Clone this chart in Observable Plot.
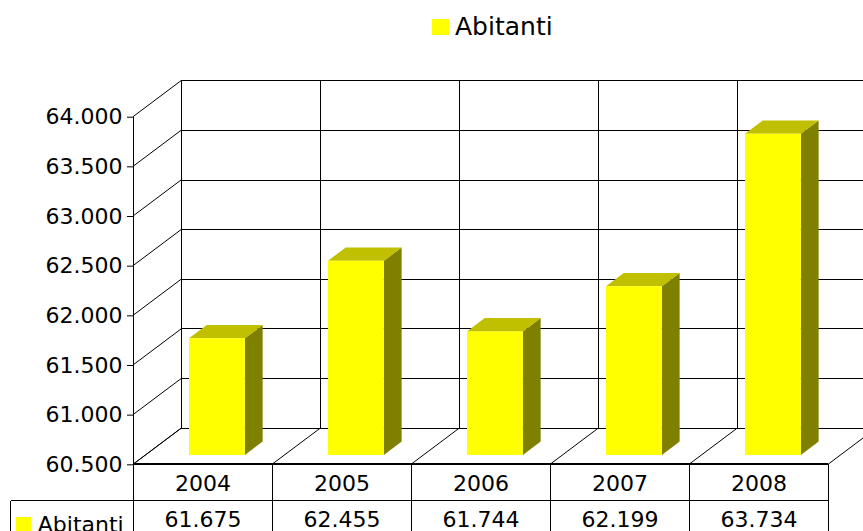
<!DOCTYPE html>
<html><head><meta charset="utf-8">
<script src="https://cdn.jsdelivr.net/npm/d3@7"></script>
<script src="https://cdn.jsdelivr.net/npm/@observablehq/plot@0.6"></script>
<style>
body{margin:0;background:#fff;font-family:"DejaVu Sans",Verdana,sans-serif;}
#legend{position:relative;height:50px;width:863px;}
#legend .sw{position:absolute;left:432px;top:19px;width:17px;height:16px;background:#ffff00;}
#legend .lb{position:absolute;left:455px;top:13.9px;font-size:25px;line-height:25px;color:#000;white-space:nowrap;}
#chart svg{display:block;}
</style></head><body>
<div id="legend"><div class="sw"></div><div class="lb" id="legendLabel"></div></div>
<div id="chart"></div>
<script>
// ---- data ----
const years = ["2004", "2005", "2006", "2007", "2008"];
const abitanti = [61675, 62455, 61744, 62199, 63734];
const yTicks = [60500, 61000, 61500, 62000, 62500, 63000, 63500, 64000];
const seriesName = "Abitanti";

const data = years.map((year, i) => ({year, value: abitanti[i]}));
const base = yTicks[0];
const fmt = d3.formatLocale({decimal: ",", thousands: ".", grouping: [3], currency: ["€", ""]}).format(",");
document.getElementById("legendLabel").textContent = seriesName;

// ---- style / geometry constants ----
const W = 863, H = 481;
const ML = 133, MR = 34.3, MT = 66.7, MB = 66.7;
const DX = 48, DY = -36;          // depth vector of the 3D box
const F1 = 0.26, F2 = 0.63;       // bar depth fractions
const INL = 43.5, INR = 39.6;     // bar insets inside band
const YELLOW = "#ffff00", SIDE = "#808000", TOP = "#c0c000";
const ROW = 36.4;                 // table row height
const TABLE_LEFT = 10.7;

function bandOf(x) {
  return x.bandwidth ? x.bandwidth() : (W - ML - MR) / years.length;
}

// back walls, floor and grid
function gridMark(index, scales) {
  const x = scales.x, y = scales.y, bw = bandOf(x);
  const g = d3.create("svg:g").attr("fill", "none").attr("stroke", "#000").attr("stroke-width", 1);
  const x0 = x(years[0]), xEnd = x(years[years.length - 1]) + bw;
  const yb = y(base), yt = y(yTicks[yTicks.length - 1]);
  for (const t of yTicks) {
    const yy = y(t);
    g.append("line").attr("x1", x0 + DX).attr("x2", W + DX).attr("y1", yy + DY).attr("y2", yy + DY).attr("shape-rendering", "crispEdges");
    g.append("line").attr("x1", x0).attr("x2", x0 + DX).attr("y1", yy).attr("y2", yy + DY);
  }
  const bounds = years.map(d => x(d)).concat([xEnd]);
  for (const b of bounds) {
    g.append("line").attr("x1", b + DX).attr("x2", b + DX).attr("y1", yt + DY).attr("y2", yb + DY).attr("shape-rendering", "crispEdges");
    g.append("line").attr("x1", b).attr("x2", b + DX).attr("y1", yb).attr("y2", yb + DY);
  }
  // front left axis line
  g.append("line").attr("x1", x0).attr("x2", x0).attr("y1", yt).attr("y2", yb).attr("shape-rendering", "crispEdges");
  return g.node();
}

// bar sides and tops (3D faces)
function barFaces(index, scales) {
  const x = scales.x, y = scales.y, bw = bandOf(x);
  const g = d3.create("svg:g").attr("stroke", "none");
  const yb = y(base);
  for (const d of data) {
    const xl = x(d.year) + INL, xr = x(d.year) + bw - INR, yt = y(d.value);
    const P = (px, py, f) => [px + f * DX, py + f * DY];
    const side = [P(xr, yt, F1), P(xr, yt, F2), P(xr, yb, F2), P(xr, yb, F1)];
    const top = [P(xl, yt, F1), P(xl, yt, F2), P(xr, yt, F2), P(xr, yt, F1)];
    g.append("polygon").attr("points", side.map(p => p.join(",")).join(" ")).attr("fill", SIDE);
    g.append("polygon").attr("points", top.map(p => p.join(",")).join(" ")).attr("fill", TOP);
  }
  return g.node();
}

// data table lines and series swatch
function tableMark(index, scales) {
  const x = scales.x, y = scales.y, bw = bandOf(x);
  const g = d3.create("svg:g").attr("fill", "none").attr("stroke", "#000").attr("shape-rendering", "crispEdges");
  const x0 = x(years[0]), xEnd = x(years[years.length - 1]) + bw;
  const yb = y(base);
  g.append("line").attr("x1", x0).attr("x2", xEnd).attr("y1", yb).attr("y2", yb).attr("stroke-width", 2);
  const bounds = years.map(d => x(d)).concat([xEnd]);
  for (const b of bounds) g.append("line").attr("x1", b).attr("x2", b).attr("y1", yb).attr("y2", H);
  g.append("line").attr("x1", TABLE_LEFT).attr("x2", xEnd).attr("y1", yb + ROW).attr("y2", yb + ROW);
  g.append("line").attr("x1", TABLE_LEFT).attr("x2", TABLE_LEFT).attr("y1", yb + ROW).attr("y2", H);
  g.append("rect").attr("x", 16).attr("y", yb + ROW + 16).attr("width", 15).attr("height", 15).attr("fill", YELLOW).attr("stroke", "none");
  return g.node();
}

const chart = Plot.plot({
  width: W, height: H,
  marginLeft: ML, marginRight: MR, marginTop: MT, marginBottom: MB,
  style: {fontFamily: '"DejaVu Sans", Verdana, sans-serif', fontSize: "22px", color: "#000", background: "#fff"},
  x: {type: "band", domain: years, padding: 0, axis: null},
  y: {domain: [yTicks[0], yTicks[yTicks.length - 1]], label: null},
  marks: [
    gridMark,
    barFaces,
    Plot.barY(data, {x: "year", y1: base, y2: "value", fill: YELLOW, insetLeft: INL, insetRight: INR, dx: F1 * DX, dy: F1 * DY}),
    Plot.axisY({ticks: yTicks, tickFormat: fmt, tickSize: 6, tickPadding: 5, fontSize: 22, label: null}),
    tableMark,
    Plot.text(data, {x: "year", text: "year", frameAnchor: "bottom", dy: 25.7, fontSize: 22}),
    Plot.text(data, {x: "year", text: d => fmt(d.value), frameAnchor: "bottom", dy: 62.5, fontSize: 22}),
    Plot.text([seriesName], {text: d => d, frameAnchor: "bottom-left", dx: 37.3 - ML, dy: 67, textAnchor: "start", fontSize: 22})
  ]
});
document.getElementById("chart").appendChild(chart);
</script>
</body></html>
